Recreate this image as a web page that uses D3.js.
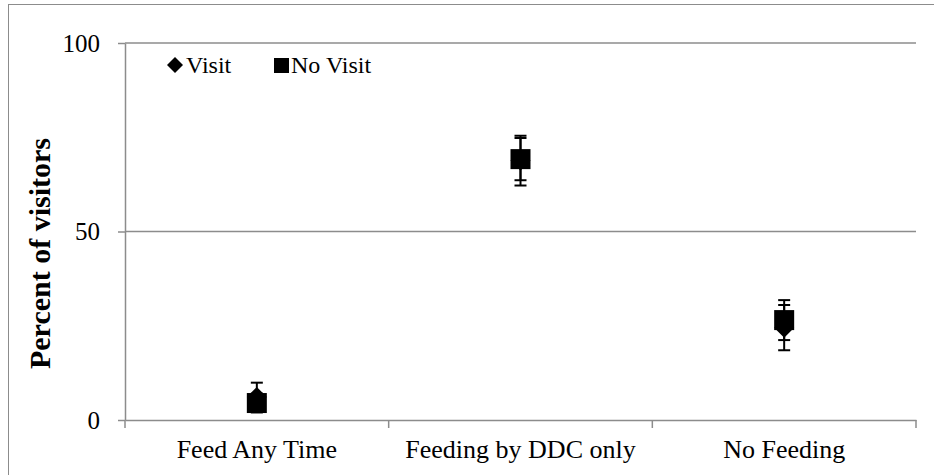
<!DOCTYPE html>
<html>
<head>
<meta charset="utf-8">
<script src="https://cdn.jsdelivr.net/npm/d3@7/dist/d3.min.js"></script>
<style>
  html, body { margin: 0; padding: 0; background: #fff; }
  svg { display: block; }
</style>
</head>
<body>
<svg id="chart" width="934" height="475"></svg>
<script>
// Feeding policy categories and the share of visitors per group (percent, with error)
const categories = ["Feed Any Time", "Feeding by DDC only", "No Feeding"];
const visitValues = [6.1, 68.8, 24.5];
const visitErrors = [3.8, 6.6, 6.0];
const noVisitValues = [4.5, 69.2, 26.5];
const noVisitErrors = [2.5, 5.6, 5.3];
const yTicks = [0, 50, 100];
const legendLabels = ["Visit", "No Visit"];

const svg = d3.select("#chart");
const plot = { left: 125, right: 916, top: 43, bottom: 420 };
const gridColor = "#8c8c8c";
const font = "Liberation Serif";

// Outer frame
svg.append("rect")
  .attr("x", 8.5).attr("y", 4.5)
  .attr("width", 940).attr("height", 480)
  .attr("fill", "none").attr("stroke", gridColor).attr("stroke-width", 1);

const x = d3.scaleBand().domain(categories).range([plot.left, plot.right]).padding(0);
const y = d3.scaleLinear().domain([0, 100]).range([plot.bottom, plot.top]);

// Horizontal gridlines
svg.append("g").selectAll("line")
  .data(yTicks.filter(t => t > 0))
  .join("line")
  .attr("x1", plot.left).attr("x2", plot.right)
  .attr("y1", d => y(d)).attr("y2", d => y(d))
  .attr("stroke", gridColor).attr("stroke-width", 1.5);

// Y axis
const yAxis = svg.append("g")
  .attr("transform", `translate(${plot.left},0)`)
  .call(d3.axisLeft(y).tickValues(yTicks).tickSize(7).tickSizeOuter(0).tickPadding(18));
yAxis.attr("font-family", font).attr("font-size", 25);
yAxis.select(".domain").attr("stroke", gridColor).attr("stroke-width", 1.5);
yAxis.selectAll(".tick line").attr("stroke", gridColor).attr("stroke-width", 1.5);
yAxis.selectAll(".tick text").attr("fill", "#000");

// X axis: labels centred in each band, tick marks on band boundaries
const xAxis = svg.append("g")
  .attr("transform", `translate(0,${plot.bottom})`)
  .call(d3.axisBottom(x).tickSize(0).tickSizeOuter(0).tickPadding(20));
xAxis.attr("font-family", font).attr("font-size", 26);
xAxis.select(".domain").attr("stroke", gridColor).attr("stroke-width", 1.5);
xAxis.selectAll(".tick text").attr("fill", "#000");
const boundaries = categories.map(c => x(c)).concat([x.range()[1]]);
xAxis.append("g").selectAll("line")
  .data(boundaries)
  .join("line")
  .attr("x1", d => d).attr("x2", d => d)
  .attr("y1", 0).attr("y2", 8)
  .attr("stroke", gridColor).attr("stroke-width", 1.5);

// Y axis title
svg.append("text")
  .attr("transform", `translate(50,${(plot.top + plot.bottom) / 2 + 22}) rotate(-90)`)
  .attr("text-anchor", "middle")
  .attr("font-family", font).attr("font-size", 30).attr("font-weight", "bold")
  .text("Percent of visitors");

const cx = c => x(c) + x.bandwidth() / 2;
const capHalf = 6;

function drawErrorBars(values, errors) {
  const g = svg.append("g").attr("stroke", "#000").attr("stroke-width", 2);
  categories.forEach((c, i) => {
    const top = y(values[i] + errors[i]);
    const bot = y(Math.max(0, values[i] - errors[i]));
    g.append("line").attr("x1", cx(c)).attr("x2", cx(c)).attr("y1", top).attr("y2", bot);
    g.append("line").attr("x1", cx(c) - capHalf).attr("x2", cx(c) + capHalf).attr("y1", top).attr("y2", top);
    g.append("line").attr("x1", cx(c) - capHalf).attr("x2", cx(c) + capHalf).attr("y1", bot).attr("y2", bot);
  });
}

const diamond = (w, h) => `M0,${-h}L${w},0L0,${h}L${-w},0Z`;

// Visit series: diamonds
drawErrorBars(visitValues, visitErrors);
svg.append("g").selectAll("path")
  .data(categories)
  .join("path")
  .attr("transform", (c, i) => `translate(${cx(c)},${y(visitValues[i])})`)
  .attr("d", diamond(10, 10))
  .attr("fill", "#000");

// No Visit series: squares
drawErrorBars(noVisitValues, noVisitErrors);
svg.append("g").selectAll("rect")
  .data(categories)
  .join("rect")
  .attr("x", c => cx(c) - 10)
  .attr("y", (c, i) => y(noVisitValues[i]) - 10)
  .attr("width", 20).attr("height", 20)
  .attr("fill", "#000");

// Legend
const legend = svg.append("g").attr("font-family", font).attr("font-size", 24);
legend.append("path")
  .attr("transform", "translate(175,65)")
  .attr("d", diamond(8, 8))
  .attr("fill", "#000");
legend.append("text").attr("x", 186).attr("y", 73).text(legendLabels[0]);
legend.append("rect")
  .attr("x", 274).attr("y", 58).attr("width", 15).attr("height", 15)
  .attr("fill", "#000");
legend.append("text").attr("x", 291).attr("y", 73).text(legendLabels[1]);
</script>
</body>
</html>
